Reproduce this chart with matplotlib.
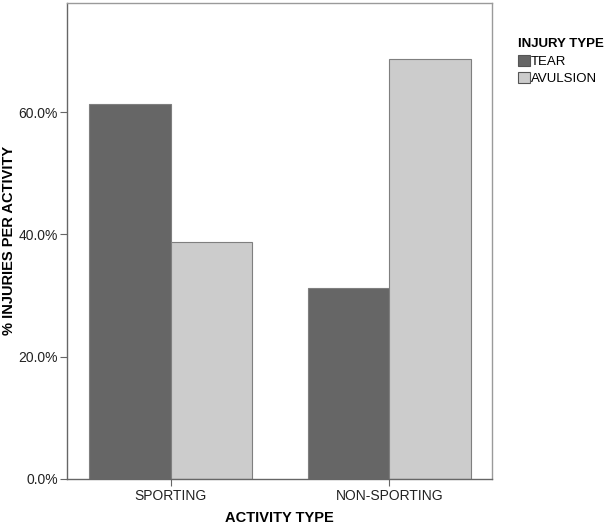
import matplotlib.pyplot as plt
from matplotlib.patches import Patch

# Data
categories = ["SPORTING", "NON-SPORTING"]
injury_types = ["TEAR", "AVULSION"]
tear_pct = [61.3, 31.3]
avulsion_pct = [38.7, 68.7]
yticks = [0, 20, 40, 60]

plt.rcParams['font.family'] = ['Liberation Sans', 'DejaVu Sans']

fig = plt.figure(figsize=(6.07, 5.26), dpi=100)
ax = fig.add_axes([0.1112, 0.0894, 0.6993, 0.9058])

x = list(range(len(categories)))
w = 0.3735
colors = ["#666666", "#cccccc"]
ax.bar([i - w / 2 for i in x], tear_pct, width=w, color=colors[0],
       edgecolor="#7f7f7f", linewidth=0.8)
ax.bar([i + w / 2 for i in x], avulsion_pct, width=w, color=colors[1],
       edgecolor="#7f7f7f", linewidth=0.8)

ax.set_xlim(-0.472, 1.47)
ax.set_ylim(0, 77.9)
ax.set_xticks(x)
ax.set_xticklabels(categories, fontsize=10, color="#222222")
ax.set_yticks(yticks)
ax.set_yticklabels([f"{v:.1f}%" for v in yticks], fontsize=10, color="#222222")
ax.tick_params(direction="out", length=5, width=0.8, color="#666666", pad=2)

for s in ax.spines.values():
    s.set_color("#9a9a9a")
    s.set_linewidth(1)
ax.spines["left"].set_color("#666666")
ax.spines["bottom"].set_color("#666666")

ax.set_xlabel("ACTIVITY TYPE", fontsize=10.5, fontweight="bold")
ax.xaxis.set_label_coords(0.5, -0.068)
ax.set_ylabel("% INJURIES PER ACTIVITY", fontsize=10.5, fontweight="bold")
ax.yaxis.set_label_coords(-0.122, 0.5)

handles = [Patch(facecolor=c, edgecolor="#555555", linewidth=0.8) for c in colors]
leg = fig.legend(handles, injury_types, loc="upper left",
                 bbox_to_anchor=(0.842, 0.940), frameon=False,
                 title="INJURY TYPE", fontsize=9.5, handlelength=0.9,
                 handleheight=0.9, handletextpad=0.1, labelspacing=0.35,
                 borderpad=0, alignment="left")
leg.get_title().set_fontweight("bold")
leg.get_title().set_fontsize(9.5)

fig.savefig("out.png", dpi=100)
